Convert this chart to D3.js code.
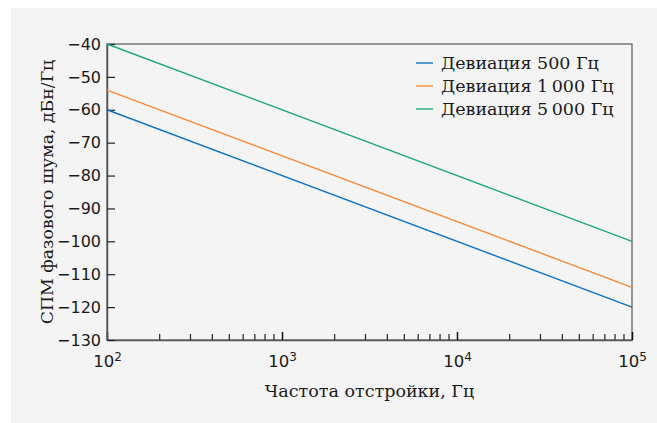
<!DOCTYPE html>
<meta charset="utf-8">
<head>
<style>
body { margin: 0; background: #fff; }
</style>
</head>
<body>
<svg width="657" height="423"></svg>
<script src="https://d3js.org/d3.v7.min.js"></script>
<script>
// data
let freqs = [100, 100000];
let names = ['Девиация 500 Гц', 'Девиация 1\u2009000 Гц', 'Девиация 5\u2009000 Гц'];
let dev500 = [-60, -120];
let dev1000 = [-54, -114];
let dev5000 = [-40, -100];
let colors = ['#0b72c0', '#f08c3c', '#20a87a'];
let yTicks = [-40, -50, -60, -70, -80, -90, -100, -110, -120, -130];
let xTicks = [100, 1000, 10000, 100000];
let xTickExp = ['2', '3', '4', '5'];

let serif = '"DejaVu Serif", serif';
let sans = '"DejaVu Sans", sans-serif';

let svg = d3.select('svg');
let margin = { top: 44, right: 25, bottom: 83, left: 107 };
let width = +svg.attr('width') - margin.left - margin.right;
let height = +svg.attr('height') - margin.top - margin.bottom;

// grey panel
svg.append('rect')
    .attr('x', 11).attr('y', 8)
    .attr('width', 657 - 11).attr('height', 423 - 8)
    .attr('fill', '#f4f4f4');

let x = d3.scaleLog().domain([100, 100000]).range([0, width]);
let y = d3.scaleLinear().domain([-130, -40]).range([height, 0]);

let g = svg.append('g')
    .attr('transform', `translate(${margin.left}, ${margin.top})`);

// frame
g.append('rect')
    .attr('width', width).attr('height', height)
    .attr('fill', 'none').attr('stroke', '#666').attr('stroke-width', 1.3);

// minor ticks
let minor = [];
for (let e = 2; e < 5; e++) {
    for (let m = 2; m <= 9; m++) minor.push(m * Math.pow(10, e));
}
g.selectAll('.minor')
    .data(minor)
    .enter().append('line')
        .attr('x1', (d) => x(d)).attr('x2', (d) => x(d))
        .attr('y1', height).attr('y2', height - 6)
        .attr('stroke', '#222').attr('stroke-width', 1.2);

// x axis
let xAxis = g.append('g')
    .attr('transform', `translate(0, ${height})`)
    .call(d3.axisBottom(x).tickValues(xTicks).tickSizeInner(-8).tickSizeOuter(0).tickPadding(15).tickFormat(() => '10'));
xAxis.select('.domain').attr('stroke', '#555').attr('stroke-width', 1.5);
xAxis.selectAll('.tick line').attr('stroke', '#111').attr('stroke-width', 1.5);
xAxis.selectAll('.tick text')
    .style('font-family', sans).style('font-size', '16.5px').attr('fill', '#1a1a1a')
    .attr('dy', '0.71em')
    .append('tspan')
        .attr('dy', '-0.5em')
        .style('font-size', '12px')
        .text((d, i) => xTickExp[i]);

// y axis
let yAxis = g.append('g')
    .call(d3.axisLeft(y).tickValues(yTicks).tickSizeInner(-8).tickSizeOuter(0).tickPadding(6)
        .tickFormat((d) => String(d).replace('-', '\u2212')));
yAxis.select('.domain').attr('stroke', '#555').attr('stroke-width', 1.5);
yAxis.selectAll('.tick line').attr('stroke', '#222').attr('stroke-width', 1.2);
yAxis.selectAll('.tick text')
    .style('font-family', sans).style('font-size', '16px').attr('fill', '#1a1a1a');

// lines
let series = [dev500, dev1000, dev5000];
let line = d3.line()
    .x((d, i) => x(freqs[i]))
    .y((d) => y(d));
g.selectAll('.series')
    .data(series)
    .enter().append('path')
        .attr('fill', 'none')
        .attr('stroke', (d, i) => colors[i])
        .attr('stroke-width', 1.4)
        .attr('d', line);

// legend
let legend = svg.append('g').attr('transform', 'translate(416, 63)');
names.forEach((n, i) => {
    let row = legend.append('g').attr('transform', `translate(0, ${i * 23})`);
    row.append('line')
        .attr('x1', 0).attr('x2', 17)
        .attr('stroke', colors[i]).attr('stroke-width', 1.4);
    row.append('text')
        .attr('x', 25).attr('dy', '0.35em')
        .style('font-family', serif).style('font-size', '17.5px').attr('fill', '#1a1a1a')
        .text(n);
});

// axis titles
svg.append('text')
    .attr('x', margin.left + width / 2).attr('y', 397)
    .attr('text-anchor', 'middle')
    .style('font-family', serif).style('font-size', '17.5px').attr('fill', '#1a1a1a')
    .text('Частота отстройки, Гц');

svg.append('text')
    .attr('transform', `translate(53, ${margin.top + height / 2}) rotate(-90)`)
    .attr('text-anchor', 'middle')
    .style('font-family', serif).style('font-size', '17.3px').attr('fill', '#1a1a1a')
    .text('СПМ фазового шума, дБн/Гц');
</script>
</body>
</html>
